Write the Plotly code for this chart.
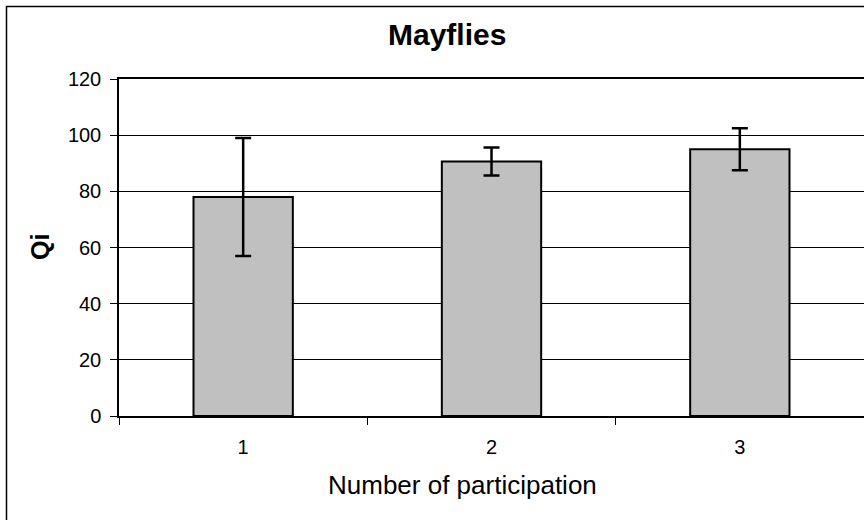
import plotly.graph_objects as go

# Data
participation = ["1", "2", "3"]
qi_mean = [78.0, 90.6, 95.0]
qi_err = [21.0, 5.0, 7.5]

y_ticks = [0, 20, 40, 60, 80, 100, 120]

FONT = "Liberation Sans, Arial, sans-serif"

# plot area in pixels (from the reference)
PL, PR, PT, PB = 119, 864, 79, 416.5
PW, PH = PR - PL, PB - PT

fig = go.Figure()

fig.add_trace(go.Bar(
    x=participation,
    y=qi_mean,
    width=0.4,
    marker=dict(color="#C0C0C0", line=dict(color="black", width=2)),
    error_y=dict(type="data", array=qi_err, visible=True,
                 color="black", thickness=2.5, width=8),
    showlegend=False,
))

# outer chart border (runs off the visible canvas on the right/bottom)
fig.add_shape(
    type="rect", xref="paper", yref="paper",
    x0=-(PL - 6.5) / PW, x1=1.2, y0=-0.6, y1=1 + (PT - 6.5) / PH,
    line=dict(color="black", width=1.5), fillcolor="rgba(0,0,0,0)",
    layer="above",
)

fig.add_annotation(
    text="<b>Mayflies</b>", xref="paper", yref="paper",
    x=(446.5 - PL) / PW, y=1 + (PT - 34) / PH,
    xanchor="center", yanchor="middle", showarrow=False,
    font=dict(family=FONT, size=30, color="black"),
)
fig.add_annotation(
    text="Number of participation", xref="paper", yref="paper",
    x=(462 - PL) / PW, y=-(486 - PB) / PH,
    xanchor="center", yanchor="middle", showarrow=False,
    font=dict(family=FONT, size=26, color="black"),
)
fig.add_annotation(
    text="<b>Qi</b>", xref="paper", yref="paper",
    x=-(PL - 39.5) / PW, y=0.5, textangle=-90,
    xanchor="center", yanchor="middle", showarrow=False,
    font=dict(family=FONT, size=25, color="black"),
)

fig.update_layout(
    width=864, height=520,
    margin=dict(l=PL, r=864 - PR, t=PT, b=520 - PB),
    paper_bgcolor="white",
    plot_bgcolor="white",
    font=dict(family=FONT, size=20, color="black"),
)

fig.update_xaxes(
    type="category",
    tickson="boundaries",
    ticks="outside", ticklen=7, tickcolor="black", tickwidth=1,
    showline=True, linecolor="black", linewidth=1.5, mirror=True,
    showgrid=False,
    ticklabelstandoff=12,
    tickfont=dict(size=20),
)
fig.update_yaxes(
    range=[0, 120],
    tickvals=y_ticks,
    ticks="outside", ticklen=7, tickcolor="black", tickwidth=1,
    showline=True, linecolor="black", linewidth=1.5,
    showgrid=True, gridcolor="black", gridwidth=1,
    zeroline=False,
    ticklabelstandoff=5,
    tickfont=dict(size=20),
)

# drop the default 8px page margin so the figure sits at (0, 0)
fig.write_html(
    "out.html",
    config={"displayModeBar": False},
    post_script="document.body.style.margin='0';",
)
